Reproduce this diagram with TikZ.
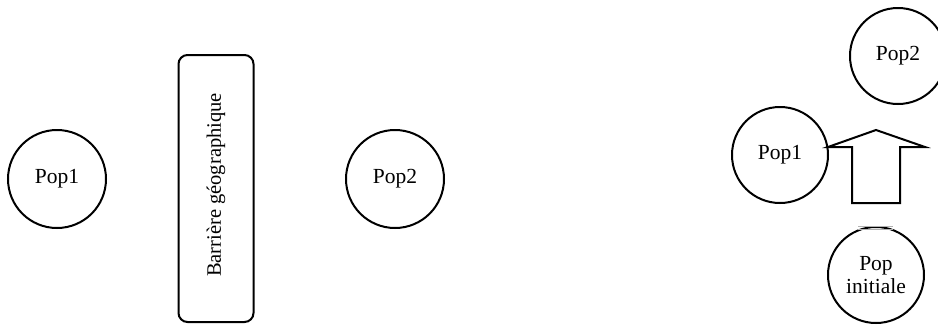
\documentclass[tikz,border=0pt]{standalone}
\usepackage{fontspec}
\setmainfont{Liberation Serif}
\tikzset{
  popc/.style={circle, draw=black, line width=2pt, minimum size=#1, inner sep=0pt, align=center, font=\fontsize{21.5}{24}\selectfont},
  barrier/.style={draw=black, line width=2pt, rounded corners=9pt, minimum width=75pt, minimum height=267pt, inner sep=0pt},
}
\begin{document}
\begin{tikzpicture}[x=1pt,y=-1pt]
\useasboundingbox (0,0) rectangle (938,325);
\begin{scope}
\clip (0,0) rectangle (938,325);
\node[popc=98pt] (p1) at (57,179) {Pop1};
\node[barrier] (bar) at (216,188.5) {};
\node[rotate=90, font=\fontsize{20.5}{22}\selectfont] (bartext) at (216,185) {Barrière géographique};
\node[popc=98pt] (p2) at (395,179) {Pop2};
\node[popc=96pt] (q2) at (898,56) {Pop2};
\node[popc=96pt] (q1) at (780,155) {Pop1};
\node[popc=96pt, font=\fontsize{21.5}{23}\selectfont] (q0) at (876,275) {Pop\\initiale};
\draw[line width=2pt, line join=miter] (852,203) -- (852,147) -- (828,147) -- (876,130) -- (925,147) -- (900,147) -- (900,203) -- cycle;
\draw[gray!60, line width=1pt] (858,226) -- (893,226) (858,229.5) -- (893,229.5);
\end{scope}
\end{tikzpicture}
\end{document}
